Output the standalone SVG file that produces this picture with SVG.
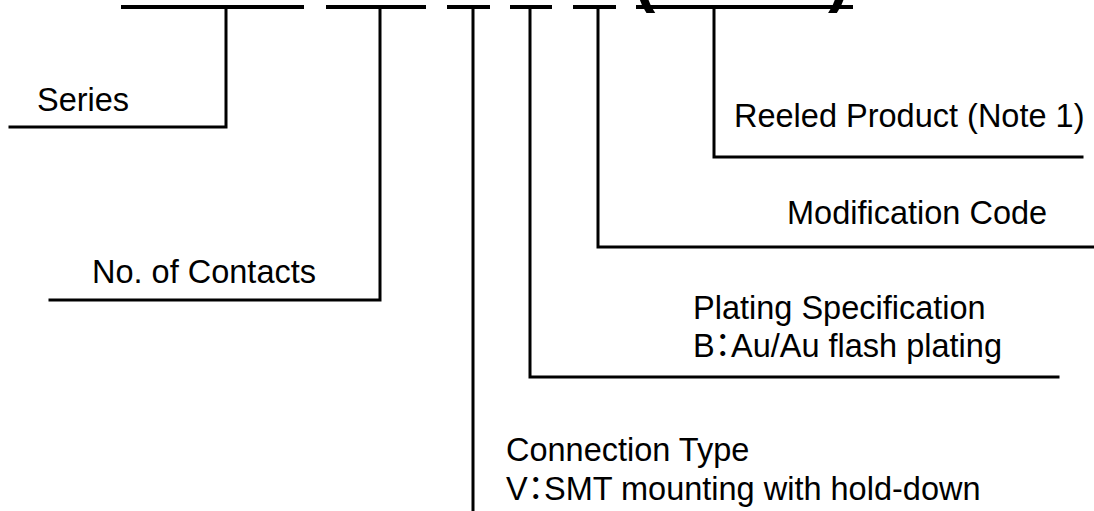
<svg xmlns="http://www.w3.org/2000/svg" width="1094" height="511" viewBox="0 0 1094 511">
<style>
.t{font-family:"Liberation Sans","Noto Sans CJK JP",Arial,sans-serif;font-size:32.5px;fill:#000}
.k{font-family:"Noto Sans CJK JP",sans-serif;font-feature-settings:"palt"}
.p{font-family:"Liberation Sans",Arial,sans-serif;font-size:64px;font-weight:bold;fill:#000}
.c{fill:none;stroke:#000;stroke-width:3;stroke-linecap:square}
.b{fill:none;stroke:#000;stroke-width:4}
</style>
<rect width="1094" height="511" fill="#fff"/>
<g id="header">
<line class="b" x1="121" y1="7" x2="304" y2="7"/>
<line class="b" x1="326" y1="7" x2="426" y2="7"/>
<line class="b" x1="447" y1="7" x2="490" y2="7"/>
<line class="b" x1="510" y1="7" x2="552" y2="7"/>
<line class="b" x1="573" y1="7" x2="616" y2="7"/>
<line class="b" x1="636" y1="7" x2="853" y2="7"/>
<text class="p" x="634" y="0">(</text>
<text class="p" x="828" y="0">)</text>
</g>
<g id="connectors">
<polyline class="c" points="226,9 226,127 10,127"/>
<polyline class="c" points="380,9 380,300 50,300"/>
<polyline class="c" points="473,9 473,511"/>
<polyline class="c" points="530,9 530,377 1058,377"/>
<polyline class="c" points="598,9 598,247 1094,247"/>
<polyline class="c" points="714,9 714,157 1082,157"/>
</g>
<g id="series"><text class="t" x="37" y="111">Series</text></g>
<g id="contacts"><text class="t" x="92" y="283">No. of Contacts</text></g>
<g id="reeled"><text class="t" x="734" y="127">Reeled Product (Note 1)</text></g>
<g id="modification"><text class="t" x="787" y="224">Modification Code</text></g>
<g id="plating"><text class="t" x="693" y="319">Plating Specification</text><text class="t" x="693" y="357">B<tspan class="k">：</tspan>Au/Au flash plating</text></g>
<g id="connection"><text class="t" x="506" y="461">Connection Type</text><text class="t" x="506" y="500">V<tspan class="k">：</tspan>SMT mounting with hold-down</text></g>
</svg>
